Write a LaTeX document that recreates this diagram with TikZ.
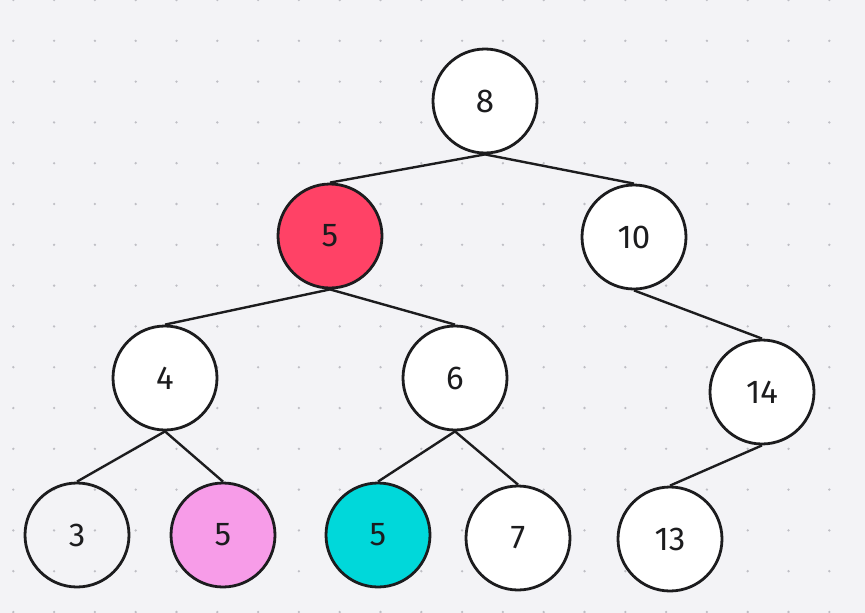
\documentclass[tikz,border=0pt]{standalone}
\usepackage{fontspec}
\setmainfont{Fira Sans}
\usepackage{tikz}
\usetikzlibrary{backgrounds}
\definecolor{paper}{RGB}{243,243,246}
\definecolor{griddot}{RGB}{190,190,196}
\definecolor{hotred}{RGB}{255,66,102}
\definecolor{softpink}{RGB}{247,156,232}
\definecolor{aqua}{RGB}{0,216,218}
\definecolor{ink}{RGB}{28,28,30}

\begin{document}
\begin{tikzpicture}[x=1pt, y=-1pt, every node/.style={font=\fontsize{33}{33}\selectfont, text=ink},
    key/.style={circle, draw=ink, line width=2.8pt, fill=white, minimum size=104pt, inner sep=0pt}]
            \useasboundingbox[fill=paper] (0,0) rectangle (865,613);
            \foreach \i in {0,...,20}
                \foreach \j in {0,...,15}
                    \fill[griddot] (13.3+40.8*\i, 40.8*\j) circle (1.3pt);

            \node[key] at (485, 101)   (n8) {8};
            \node[key, fill=hotred] at (330, 236)   (n5a) {5};
            \node[key] at (634, 237)   (n10) {10};
            \node[key] at (165, 378)   (n4) {4};
            \node[key] at (455, 378)   (n6) {6};
            \node[key] at (762, 392)   (n14) {14};
            \node[key, fill=none] at (77, 535)   (n3) {3};
            \node[key, fill=softpink] at (223, 535)   (n5b) {5};
            \node[key, fill=aqua] at (378, 535)   (n5c) {5};
            \node[key] at (518, 538)   (n7) {7};
            \node[key] at (670, 539)   (n13) {13};

            \draw [line width=2.4pt, ink] (n8.south) -- (n5a.north);
            \draw [line width=2.4pt, ink] (n8.south) -- (n10.north);
            \draw [line width=2.4pt, ink] (n5a.south) -- (n4.north);
            \draw [line width=2.4pt, ink] (n5a.south) -- (n6.north);
            \draw [line width=2.4pt, ink] (n10.south) -- (n14.north);
            \draw [line width=2.4pt, ink] (n4.south) -- (n3.north);
            \draw [line width=2.4pt, ink] (n4.south) -- (n5b.north);
            \draw [line width=2.4pt, ink] (n6.south) -- (n5c.north);
            \draw [line width=2.4pt, ink] (n6.south) -- (n7.north);
            \draw [line width=2.4pt, ink] (n14.south) -- (n13.north);
        \end{tikzpicture}
\end{document}
